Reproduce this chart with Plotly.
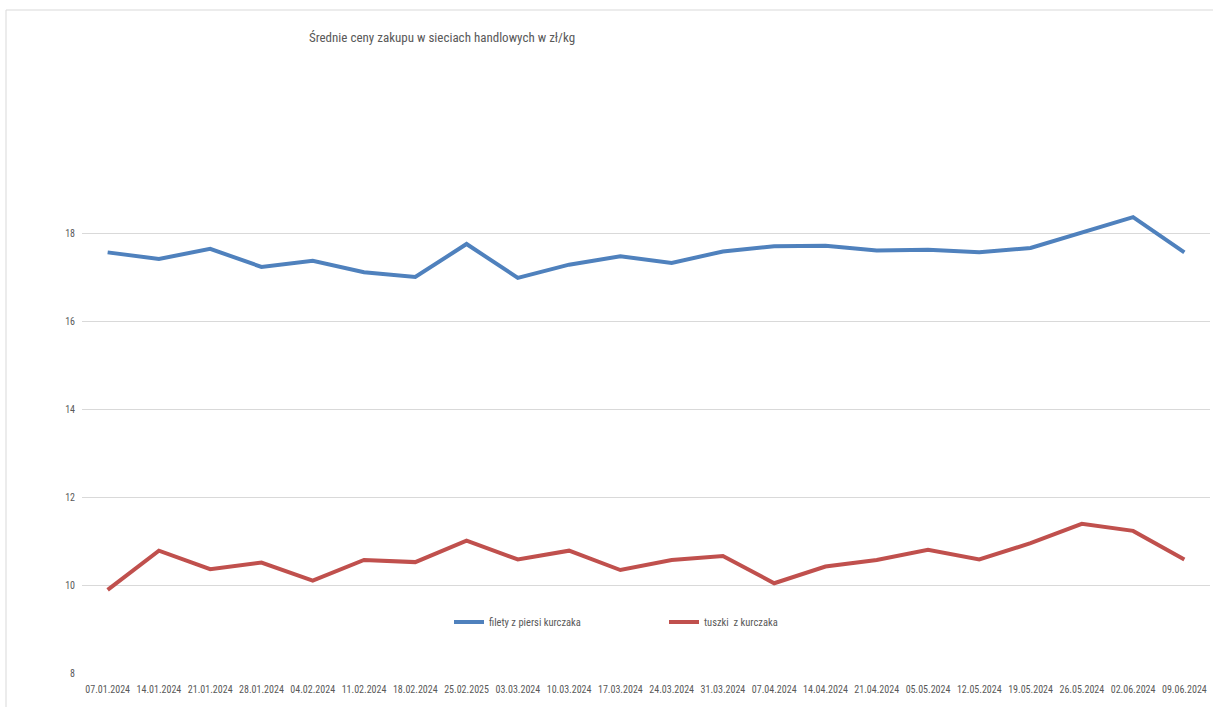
import plotly.graph_objects as go

dates = ["07.01.2024", "14.01.2024", "21.01.2024", "28.01.2024", "04.02.2024", "11.02.2024",
         "18.02.2024", "25.02.2025", "03.03.2024", "10.03.2024", "17.03.2024", "24.03.2024",
         "31.03.2024", "07.04.2024", "14.04.2024", "21.04.2024", "05.05.2024", "12.05.2024",
         "19.05.2024", "26.05.2024", "02.06.2024", "09.06.2024"]

filety = [17.56, 17.41, 17.64, 17.23, 17.37, 17.11, 17.00, 17.75, 16.98, 17.28, 17.47,
          17.32, 17.58, 17.70, 17.71, 17.60, 17.62, 17.56, 17.66, 18.02, 18.36, 17.56]

tuszki = [9.89, 10.78, 10.36, 10.51, 10.10, 10.57, 10.52, 11.01, 10.58, 10.78, 10.34,
          10.57, 10.66, 10.04, 10.42, 10.57, 10.80, 10.58, 10.95, 11.39, 11.23, 10.58]

y_ticks = [8, 10, 12, 14, 16, 18]

FONT = "Liberation Sans Narrow, Arial Narrow, Roboto Condensed, Roboto, sans-serif"

L, R, T, B = 82, 1210, 50, 673
PW, PH = R - L, B - T

fig = go.Figure()
fig.add_trace(go.Scatter(x=dates, y=filety, mode="lines", name="filety z piersi kurczaka",
                         line=dict(color="#4f81bd", width=4)))
fig.add_trace(go.Scatter(x=dates, y=tuszki, mode="lines", name="tuszki  z kurczaka",
                         line=dict(color="#c0504d", width=4)))

fig.update_layout(
    width=1213, height=707,
    margin=dict(l=L, r=1213 - R, t=T, b=707 - B, autoexpand=False),
    paper_bgcolor="white", plot_bgcolor="white",
    font=dict(family=FONT, size=10, color="#595959"),
    title=dict(text="Średnie ceny zakupu w sieciach handlowych w zł/kg",
               x=442 / 1213, xanchor="center", y=1 - 37 / 707, yanchor="middle",
               font=dict(family=FONT, size=13, color="#595959")),
    showlegend=True,
    legend=dict(orientation="h", x=(664 - L) / PW, xanchor="center",
                y=(B - 622) / PH, yanchor="middle",
                font=dict(family=FONT, size=10.5, color="#595959"),
                bgcolor="rgba(0,0,0,0)", entrywidth=170, entrywidthmode="pixels"),
    xaxis=dict(type="category", range=[-0.5, len(dates) - 0.5], showgrid=False,
               zeroline=False, showline=False, automargin=False,
               ticks="", tickangle=0, tickfont=dict(size=10, color="#595959"),
               ticklabelstandoff=9),
    yaxis=dict(range=[8, 8 + PH / 44], tickvals=y_ticks, showgrid=True, automargin=False,
               gridcolor="#d9d9d9", gridwidth=1, zeroline=False, showline=False,
               ticks="", tickfont=dict(size=10, color="#595959"), ticklabelstandoff=6),
    shapes=[
        dict(type="line", xref="paper", yref="paper", x0=(6 - L) / PW, x1=(1213 - L) / PW,
             y0=(B - 10) / PH, y1=(B - 10) / PH, line=dict(color="#d9d9d9", width=1)),
        dict(type="line", xref="paper", yref="paper", x0=(6 - L) / PW, x1=(6 - L) / PW,
             y0=(B - 10) / PH, y1=(B - 710) / PH, line=dict(color="#d9d9d9", width=1)),
    ],
)

fig.write_html("out.html", config={"displayModeBar": False},
               post_script="document.body.style.margin='0';document.body.style.overflow='hidden';")
